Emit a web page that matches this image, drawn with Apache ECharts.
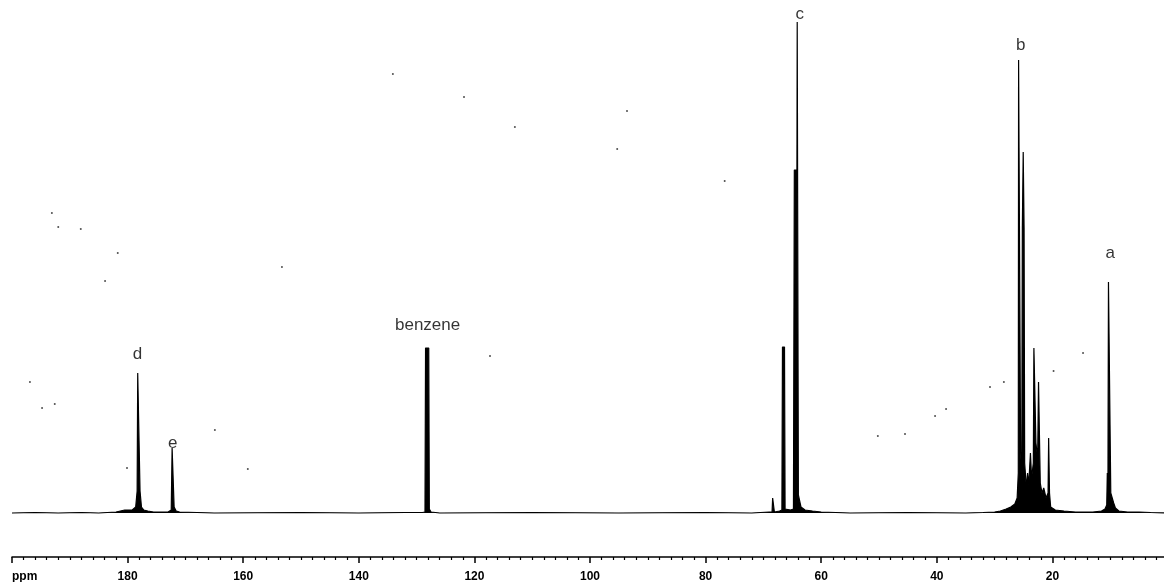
<!DOCTYPE html>
<html>
<head>
<meta charset="utf-8">
<script src="https://cdn.jsdelivr.net/npm/echarts@6/dist/echarts.min.js"></script>
<style>html,body{margin:0;padding:0;background:#fff}#chart{width:1164px;height:582px}</style>
</head>
<body>
<div id="chart"></div>
<script>
// 13C NMR spectrum: [chemical shift (ppm), intensity]
const spectrum = [
  [200,0],[196,0.5],[192,0],[188,0.5],[185,0],[182,1],[180.5,3],[179.2,3],[178.6,6],[178.35,22],
  [178.25,140],[177.95,140],[177.85,22],[177.6,6],[177.2,3],[176.5,2],[175.5,1],[173,1],[172.45,3],
  [172.3,65],[172.1,65],[171.95,6],[171.6,2],[171,1],[165,0],[150,0.5],[140,0],[132,0.5],[129,0.5],[128.55,1],
  [128.45,165],[127.9,165],[127.8,4],[127.5,1],[126,0],[110,0.5],[95,0],[80,0.5],[72,0],[69,1],[68.5,1],
  [68.4,15],[68.25,15],[68.1,1],[67.2,2],[66.8,3],[66.7,166],[66.35,166],[66.25,4],[65.3,3],[64.8,4],
  [64.65,343],[64.2,343],[64.15,491],[64.0,491],[63.95,18],[63.75,16],[63.5,6],[62.8,3],[61.5,2],[60,1],
  [55,0],[45,0.5],[35,0],[32,0.5],[30,1],[29,2],[28,4],[27.2,6],[26.5,9],[26.1,15],[25.9,40],
  [25.85,453],[25.6,453],[25.5,60],[25.3,40],[25.2,285],[25.05,361],[24.9,285],[24.8,50],[24.5,25],
  [24.3,40],[24.1,28],[23.8,60],[23.6,35],[23.3,50],[23.2,165],[22.95,165],[22.85,70],[22.55,55],
  [22.4,131],[22.2,131],[22.1,30],[21.8,20],[21.5,25],[21.1,15],[20.75,20],[20.65,75],[20.5,20],
  [20.3,6],[19.5,3],[18,2],[16,1],[13,1],[11.5,2],[10.9,4],[10.6,8],[10.5,40],[10.4,10],[10.3,231],
  [10.0,231],[9.9,20],[9.7,18],[9.4,10],[9.1,5],[8.5,2],[7,1],[5,1],[3,0.5],[0,0]
];

// peak assignment labels: name, shift (ppm), label height
const labelNames = ['d','e','benzene','c','b','a'];
const labelPpm = [178.3,172.2,128.1,63.7,25.5,10.0];
const labelHeight = [159,70,188,499,468,260];

// stray specks visible on the scanned spectrum
const specks = [
  [121.8,416],[134.1,439],[113.0,386],[95.3,364],[93.6,402],[76.7,332],[193.1,300],[192.0,286],
  [188.1,284],[181.7,260],[183.9,232],[153.3,246],[196.9,131],[194.8,105],[192.6,109],[180.1,45],
  [164.9,83],[159.2,44],[117.3,157],[28.4,131],[14.7,160],[19.8,142],[50.2,77],[45.5,79],[40.3,97],
  [38.4,104],[30.8,126]
];

// axis ticks
const axisMin = 0, axisMax = 200, majorStep = 20, minorSplit = 10;

const chart = echarts.init(document.getElementById('chart'));
chart.setOption({
  animation: false,
  backgroundColor: '#fff',
  grid: { left: 12, width: 1156, top: 0, bottom: 25, containLabel: false, outerBoundsMode: 'none' },
  xAxis: {
    type: 'value', inverse: true, min: axisMin, max: axisMax, interval: majorStep,
    axisLine: { show: true, onZero: false, lineStyle: { color: '#000', width: 1.5 } },
    axisTick: { show: true, length: 6, lineStyle: { color: '#000', width: 1.5 } },
    minorTick: { show: true, splitNumber: minorSplit, length: 3, lineStyle: { color: '#000', width: 1.2 } },
    splitLine: { show: false },
    axisLabel: {
      color: '#000', fontSize: 12, fontWeight: 'bold', fontFamily: 'Liberation Sans, Arial', margin: 14,
      alignMaxLabel: 'left',
      formatter: v => v === axisMax ? 'ppm' : (v === axisMin ? '' : String(v))
    }
  },
  yAxis: { type: 'value', min: -44, max: 513, show: false },
  series: [
    {
      type: 'line', data: spectrum, showSymbol: false, symbol: 'none',
      lineStyle: { color: '#000', width: 1.2 },
      areaStyle: { color: '#000', opacity: 1, origin: 0 },
      z: 2
    },
    {
      type: 'scatter', data: specks, symbolSize: 2, itemStyle: { color: '#222' }, z: 1, silent: true
    },
    {
      type: 'scatter', symbolSize: 0,
      data: labelNames.map((n, i) => ({ name: n, value: [labelPpm[i], labelHeight[i]] })),
      label: { show: true, position: 'inside', formatter: p => p.name, color: '#000', fontSize: 17,
               fontFamily: 'Liberation Sans, Arial' },
      z: 3
    }
  ]
});
</script>
</body>
</html>
